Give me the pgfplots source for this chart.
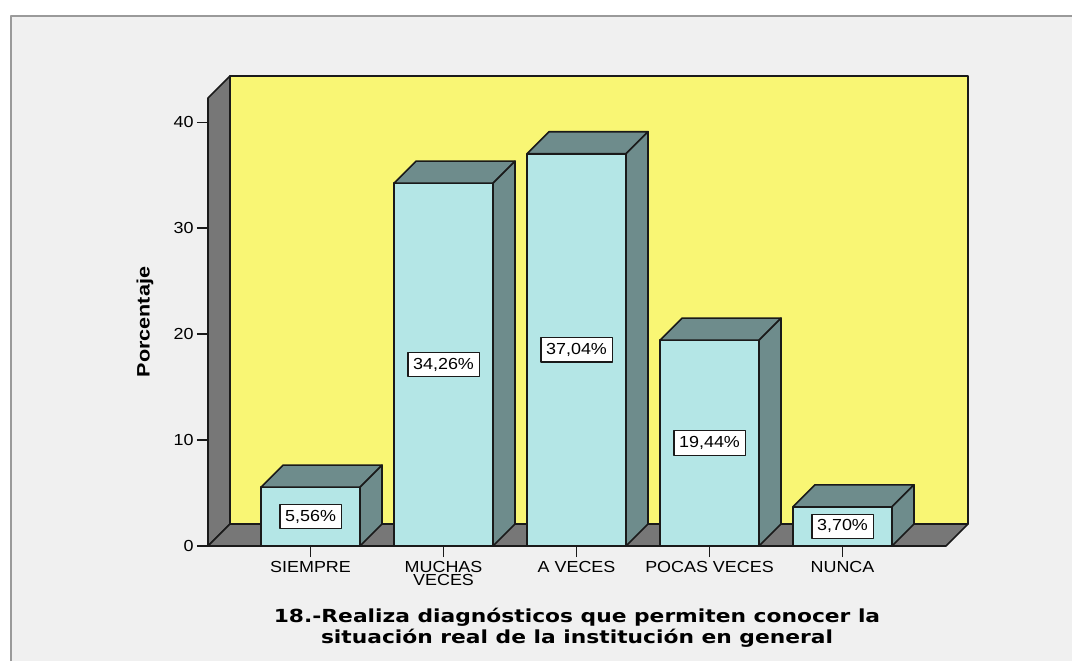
\documentclass[border=0pt]{standalone}
\usepackage{pgfplots}
\usepackage{pgfplotstable}
\pgfplotsset{compat=1.18}
\usepackage{fontspec}
\setmainfont{Liberation Sans}
\newfontfamily\tickfont[FakeStretch=1.12]{Liberation Sans}
\newfontfamily\labelfont[FakeStretch=1.2]{Liberation Sans}
\newfontfamily\titlefont[FakeStretch=1.21,BoldFont={DejaVu Sans Bold}]{DejaVu Sans}
\newcommand\tickfs{\tickfont\fontsize{8pt}{6.6pt}\selectfont}

\definecolor{bgc}{HTML}{F0F0F0}
\definecolor{framegray}{HTML}{9A9A9A}
\definecolor{wallY}{HTML}{F9F674}
\definecolor{wallG}{HTML}{777777}
\definecolor{bfront}{HTML}{B4E6E6}
\definecolor{bside}{HTML}{6E8C8C}
\definecolor{edge}{HTML}{1A1A1A}

\pgfdeclareplotmark{void}{}

% share of answers per category (percent)
\pgfplotstableread{
idx v
0 5.56
1 34.26
2 37.04
3 19.44
4 3.70
}\datatab

\begin{document}
\begin{tikzpicture}[line join=round]
  % page and panel background
  \path[use as bounding box, fill=white] (-104pt,-57.5pt) rectangle (432pt,273pt);
  \fill[bgc] (-98.5pt,-57.5pt) rectangle (432pt,265pt);
  \draw[framegray, line width=1pt] (-98.5pt,-57.5pt) -- (-98.5pt,265pt) -- (432pt,265pt);
  % 3D frame: back wall, side wall and floor
  \filldraw[fill=wallY, draw=edge, line width=0.8pt] (11pt,11pt) rectangle (380pt,235pt);
  \filldraw[fill=wallG, draw=edge, line width=0.8pt] (0pt,0pt) -- (0pt,224pt) -- (11pt,235pt) -- (11pt,11pt) -- cycle;
  \filldraw[fill=wallG, draw=edge, line width=0.8pt] (0pt,0pt) -- (11pt,11pt) -- (380pt,11pt) -- (369pt,0pt) -- cycle;

  \begin{axis}[
    at={(0pt,0pt)}, anchor=south west,
    scale only axis, width=369pt, height=224pt,
    xmin=-0.771, xmax=4.778, ymin=0, ymax=42.3,
    clip=false,
    axis lines*=left,
    axis line style={edge, line width=0.8pt},
    tick align=outside,
    major tick length=5.5pt,
    tick style={edge, line width=0.8pt},
    xtick={0,1,2,3,4},
    xticklabels={SIEMPRE, {MUCHAS\\VECES}, A VECES, POCAS VECES, NUNCA},
    ytick={0,10,20,30,40},
    /pgf/number format/assume math mode=true,
    xticklabel style={font=\tickfs, align=center, inner sep=1pt, yshift=-1pt},
    yticklabel style={font=\tickfs, inner sep=1pt, xshift=-0.5pt},
    ylabel={Porcentaje},
    every axis y label/.style={at={(axis description cs:-0.0854,0.5)}, rotate=90, anchor=center,
      font=\labelfont\bfseries\fontsize{9pt}{10pt}\selectfont},
    xlabel={18.-Realiza diagnósticos que permiten conocer la\\situación real de la institución en general},
    every axis x label/.style={at={(axis description cs:0.5,0)}, anchor=center, yshift=-41pt, align=center,
      font=\titlefont\bfseries\fontsize{9pt}{10.5pt}\selectfont},
  ]
    % front faces of the bars
    \addplot[ybar, bar width=49.5pt, fill=bfront, draw=edge, line width=0.8pt]
      table[x=idx, y=v] {\datatab};
    % top and side faces giving the bars depth, plus the value label
    \addplot[scatter, only marks, mark=void,
      visualization depends on={rawy \as \barval},
      scatter/@pre marker code/.code={%
        \pgfmathsetmacro\negv{-\barval}%
        \pgfmathsetmacro\neghalf{-\barval/2}%
        \filldraw[fill=bside, draw=edge, line width=0.8pt]
          (-24.75pt,0pt) -- ++(11pt,11pt) -- ++(49.5pt,0pt) -- (24.75pt,0pt) -- cycle;
        \filldraw[fill=bside, draw=edge, line width=0.8pt]
          (24.75pt,0pt) -- ++(11pt,11pt) -- ++(axis direction cs:0,\negv) -- ++(-11pt,-11pt) -- cycle;
        \node[fill=white, draw=edge, line width=0.6pt, inner xsep=2.6pt, inner ysep=2.8pt,
              font=\tickfs, anchor=center] at (axis direction cs:0,\neghalf)
          {\pgfmathprintnumber[fixed, fixed zerofill, precision=2, use comma, assume math mode=true]{\barval}\%};
      },
      scatter/@post marker code/.code={}]
      table[x=idx, y=v] {\datatab};
  \end{axis}
\end{tikzpicture}
\end{document}
